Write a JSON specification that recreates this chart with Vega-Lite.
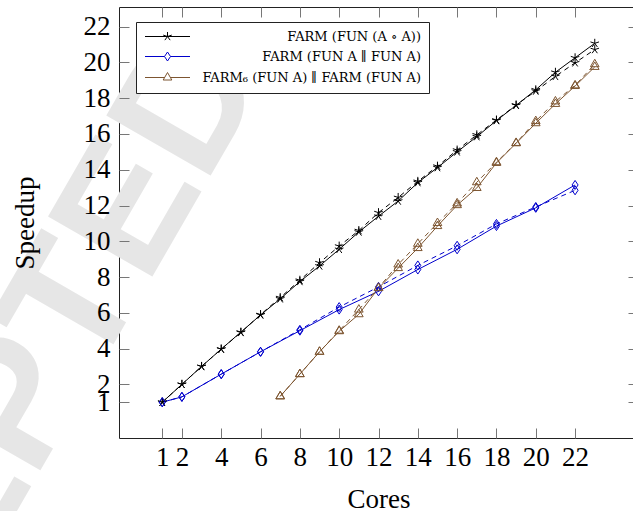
{
  "$schema": "https://vega.github.io/schema/vega-lite/v6.json",
  "width": 519,
  "height": 431,
  "autosize": "none",
  "padding": {"left": 119, "top": 7, "right": -5, "bottom": 73},
  "background": "white",
  "config": {
    "view": {"stroke": "#222", "strokeWidth": 1},
    "axis": {"grid": false, "domain": false, "tickColor": "#777", "tickWidth": 1, "tickSize": -10, "labelOverlap": false, "labelFlush": false, "labelBound": false}
  },
  "datasets": {
    "wm": [{"label": "ACCEPTED"}],
    "solid": [
      {"series": "FARM (FUN (A ∘ A))", "cores": 1, "speedup": 1.0},
      {"series": "FARM (FUN (A ∘ A))", "cores": 2, "speedup": 2.0},
      {"series": "FARM (FUN (A ∘ A))", "cores": 3, "speedup": 3.0},
      {"series": "FARM (FUN (A ∘ A))", "cores": 4, "speedup": 3.97},
      {"series": "FARM (FUN (A ∘ A))", "cores": 5, "speedup": 4.92},
      {"series": "FARM (FUN (A ∘ A))", "cores": 6, "speedup": 5.88},
      {"series": "FARM (FUN (A ∘ A))", "cores": 7, "speedup": 6.78},
      {"series": "FARM (FUN (A ∘ A))", "cores": 8, "speedup": 7.75},
      {"series": "FARM (FUN (A ∘ A))", "cores": 9, "speedup": 8.62},
      {"series": "FARM (FUN (A ∘ A))", "cores": 10, "speedup": 9.55},
      {"series": "FARM (FUN (A ∘ A))", "cores": 11, "speedup": 10.52},
      {"series": "FARM (FUN (A ∘ A))", "cores": 12, "speedup": 11.4},
      {"series": "FARM (FUN (A ∘ A))", "cores": 13, "speedup": 12.25},
      {"series": "FARM (FUN (A ∘ A))", "cores": 14, "speedup": 13.28},
      {"series": "FARM (FUN (A ∘ A))", "cores": 15, "speedup": 14.12},
      {"series": "FARM (FUN (A ∘ A))", "cores": 16, "speedup": 15.0},
      {"series": "FARM (FUN (A ∘ A))", "cores": 17, "speedup": 15.85},
      {"series": "FARM (FUN (A ∘ A))", "cores": 18, "speedup": 16.75},
      {"series": "FARM (FUN (A ∘ A))", "cores": 19, "speedup": 17.6},
      {"series": "FARM (FUN (A ∘ A))", "cores": 20, "speedup": 18.47},
      {"series": "FARM (FUN (A ∘ A))", "cores": 21, "speedup": 19.45},
      {"series": "FARM (FUN (A ∘ A))", "cores": 22, "speedup": 20.26},
      {"series": "FARM (FUN (A ∘ A))", "cores": 23, "speedup": 21.07},
      {"series": "FARM (FUN A ∥ FUN A)", "cores": 1, "speedup": 1.0},
      {"series": "FARM (FUN A ∥ FUN A)", "cores": 2, "speedup": 1.3},
      {"series": "FARM (FUN A ∥ FUN A)", "cores": 4, "speedup": 2.57},
      {"series": "FARM (FUN A ∥ FUN A)", "cores": 6, "speedup": 3.82},
      {"series": "FARM (FUN A ∥ FUN A)", "cores": 8, "speedup": 5.0},
      {"series": "FARM (FUN A ∥ FUN A)", "cores": 10, "speedup": 6.18},
      {"series": "FARM (FUN A ∥ FUN A)", "cores": 12, "speedup": 7.2},
      {"series": "FARM (FUN A ∥ FUN A)", "cores": 14, "speedup": 8.42},
      {"series": "FARM (FUN A ∥ FUN A)", "cores": 16, "speedup": 9.55},
      {"series": "FARM (FUN A ∥ FUN A)", "cores": 18, "speedup": 10.85},
      {"series": "FARM (FUN A ∥ FUN A)", "cores": 20, "speedup": 11.87},
      {"series": "FARM (FUN A ∥ FUN A)", "cores": 22, "speedup": 13.15},
      {"series": "FARM₆ (FUN A) ∥ FARM (FUN A)", "cores": 7, "speedup": 1.33},
      {"series": "FARM₆ (FUN A) ∥ FARM (FUN A)", "cores": 8, "speedup": 2.57},
      {"series": "FARM₆ (FUN A) ∥ FARM (FUN A)", "cores": 9, "speedup": 3.82},
      {"series": "FARM₆ (FUN A) ∥ FARM (FUN A)", "cores": 10, "speedup": 4.97},
      {"series": "FARM₆ (FUN A) ∥ FARM (FUN A)", "cores": 11, "speedup": 5.92},
      {"series": "FARM₆ (FUN A) ∥ FARM (FUN A)", "cores": 12, "speedup": 7.38},
      {"series": "FARM₆ (FUN A) ∥ FARM (FUN A)", "cores": 13, "speedup": 8.5},
      {"series": "FARM₆ (FUN A) ∥ FARM (FUN A)", "cores": 14, "speedup": 9.62},
      {"series": "FARM₆ (FUN A) ∥ FARM (FUN A)", "cores": 15, "speedup": 10.85},
      {"series": "FARM₆ (FUN A) ∥ FARM (FUN A)", "cores": 16, "speedup": 12.02},
      {"series": "FARM₆ (FUN A) ∥ FARM (FUN A)", "cores": 17, "speedup": 12.98},
      {"series": "FARM₆ (FUN A) ∥ FARM (FUN A)", "cores": 18, "speedup": 14.38},
      {"series": "FARM₆ (FUN A) ∥ FARM (FUN A)", "cores": 19, "speedup": 15.48},
      {"series": "FARM₆ (FUN A) ∥ FARM (FUN A)", "cores": 20, "speedup": 16.6},
      {"series": "FARM₆ (FUN A) ∥ FARM (FUN A)", "cores": 21, "speedup": 17.68},
      {"series": "FARM₆ (FUN A) ∥ FARM (FUN A)", "cores": 22, "speedup": 18.68},
      {"series": "FARM₆ (FUN A) ∥ FARM (FUN A)", "cores": 23, "speedup": 19.75}
    ],
    "dashed": [
      {"series": "FARM (FUN (A ∘ A))", "cores": 1, "speedup": 1.0},
      {"series": "FARM (FUN (A ∘ A))", "cores": 2, "speedup": 2.0},
      {"series": "FARM (FUN (A ∘ A))", "cores": 3, "speedup": 3.0},
      {"series": "FARM (FUN (A ∘ A))", "cores": 4, "speedup": 3.97},
      {"series": "FARM (FUN (A ∘ A))", "cores": 5, "speedup": 4.9},
      {"series": "FARM (FUN (A ∘ A))", "cores": 6, "speedup": 5.9},
      {"series": "FARM (FUN (A ∘ A))", "cores": 7, "speedup": 6.85},
      {"series": "FARM (FUN (A ∘ A))", "cores": 8, "speedup": 7.82},
      {"series": "FARM (FUN (A ∘ A))", "cores": 9, "speedup": 8.8},
      {"series": "FARM (FUN (A ∘ A))", "cores": 10, "speedup": 9.73},
      {"series": "FARM (FUN (A ∘ A))", "cores": 11, "speedup": 10.6},
      {"series": "FARM (FUN (A ∘ A))", "cores": 12, "speedup": 11.6},
      {"series": "FARM (FUN (A ∘ A))", "cores": 13, "speedup": 12.45},
      {"series": "FARM (FUN (A ∘ A))", "cores": 14, "speedup": 13.35},
      {"series": "FARM (FUN (A ∘ A))", "cores": 15, "speedup": 14.2},
      {"series": "FARM (FUN (A ∘ A))", "cores": 16, "speedup": 15.1},
      {"series": "FARM (FUN (A ∘ A))", "cores": 17, "speedup": 15.95},
      {"series": "FARM (FUN (A ∘ A))", "cores": 18, "speedup": 16.78},
      {"series": "FARM (FUN (A ∘ A))", "cores": 19, "speedup": 17.62},
      {"series": "FARM (FUN (A ∘ A))", "cores": 20, "speedup": 18.4},
      {"series": "FARM (FUN (A ∘ A))", "cores": 21, "speedup": 19.22},
      {"series": "FARM (FUN (A ∘ A))", "cores": 22, "speedup": 19.98},
      {"series": "FARM (FUN (A ∘ A))", "cores": 23, "speedup": 20.72},
      {"series": "FARM (FUN A ∥ FUN A)", "cores": 1, "speedup": 1.0},
      {"series": "FARM (FUN A ∥ FUN A)", "cores": 2, "speedup": 1.3},
      {"series": "FARM (FUN A ∥ FUN A)", "cores": 4, "speedup": 2.57},
      {"series": "FARM (FUN A ∥ FUN A)", "cores": 6, "speedup": 3.82},
      {"series": "FARM (FUN A ∥ FUN A)", "cores": 8, "speedup": 5.05},
      {"series": "FARM (FUN A ∥ FUN A)", "cores": 10, "speedup": 6.32},
      {"series": "FARM (FUN A ∥ FUN A)", "cores": 12, "speedup": 7.45},
      {"series": "FARM (FUN A ∥ FUN A)", "cores": 14, "speedup": 8.65},
      {"series": "FARM (FUN A ∥ FUN A)", "cores": 16, "speedup": 9.75},
      {"series": "FARM (FUN A ∥ FUN A)", "cores": 18, "speedup": 10.97},
      {"series": "FARM (FUN A ∥ FUN A)", "cores": 20, "speedup": 11.92},
      {"series": "FARM (FUN A ∥ FUN A)", "cores": 22, "speedup": 12.85},
      {"series": "FARM₆ (FUN A) ∥ FARM (FUN A)", "cores": 7, "speedup": 1.33},
      {"series": "FARM₆ (FUN A) ∥ FARM (FUN A)", "cores": 8, "speedup": 2.57},
      {"series": "FARM₆ (FUN A) ∥ FARM (FUN A)", "cores": 9, "speedup": 3.82},
      {"series": "FARM₆ (FUN A) ∥ FARM (FUN A)", "cores": 10, "speedup": 5.0},
      {"series": "FARM₆ (FUN A) ∥ FARM (FUN A)", "cores": 11, "speedup": 6.18},
      {"series": "FARM₆ (FUN A) ∥ FARM (FUN A)", "cores": 12, "speedup": 7.4},
      {"series": "FARM₆ (FUN A) ∥ FARM (FUN A)", "cores": 13, "speedup": 8.7},
      {"series": "FARM₆ (FUN A) ∥ FARM (FUN A)", "cores": 14, "speedup": 9.86},
      {"series": "FARM₆ (FUN A) ∥ FARM (FUN A)", "cores": 15, "speedup": 11.02},
      {"series": "FARM₆ (FUN A) ∥ FARM (FUN A)", "cores": 16, "speedup": 12.12},
      {"series": "FARM₆ (FUN A) ∥ FARM (FUN A)", "cores": 17, "speedup": 13.3},
      {"series": "FARM₆ (FUN A) ∥ FARM (FUN A)", "cores": 18, "speedup": 14.42},
      {"series": "FARM₆ (FUN A) ∥ FARM (FUN A)", "cores": 19, "speedup": 15.5},
      {"series": "FARM₆ (FUN A) ∥ FARM (FUN A)", "cores": 20, "speedup": 16.72},
      {"series": "FARM₆ (FUN A) ∥ FARM (FUN A)", "cores": 21, "speedup": 17.82},
      {"series": "FARM₆ (FUN A) ∥ FARM (FUN A)", "cores": 22, "speedup": 18.72},
      {"series": "FARM₆ (FUN A) ∥ FARM (FUN A)", "cores": 23, "speedup": 19.9}
    ]
  },
  "layer": [
    {
      "data": {"name": "wm"},
      "mark": {"type": "text", "angle": -60, "fontSize": 175, "font": "Liberation Sans", "fontWeight": "bold", "color": "#e6e6e6", "align": "center", "baseline": "middle"},
      "encoding": {
        "x": {"datum": -8.2, "type": "quantitative", "axis": null, "scale": {"domain": [-1.2, 25.2], "nice": false, "zero": false}},
        "y": {"datum": -2.6, "type": "quantitative", "axis": null, "scale": {"domain": [-1, 23.1], "nice": false, "zero": false}},
        "text": {"field": "label"}
      }
    },
    {
      "data": {"name": "solid"},
      "transform": [{"filter": "datum.cores < 0"}],
      "mark": {"type": "point", "filled": false, "size": 100, "strokeWidth": 1, "opacity": 1},
      "encoding": {
        "x": {"field": "cores", "type": "quantitative", "axis": null},
        "y": {"field": "speedup", "type": "quantitative", "axis": null},
        "color": {"field": "series", "type": "nominal",
          "scale": {"domain": ["FARM (FUN (A ∘ A))", "FARM (FUN A ∥ FUN A)", "FARM₆ (FUN A) ∥ FARM (FUN A)"], "range": ["#000000", "#0000cc", "#7d5530"]},
          "legend": {"orient": "none", "legendX": 17, "legendY": 15, "title": null, "padding": 8, "strokeColor": "#222", "fillColor": "white",
            "labelFont": "DejaVu Serif", "labelFontSize": 13, "labelColor": "black", "labelAlign": "right", "labelLimit": 400, "labelOffset": 247,
            "symbolSize": 100, "symbolStrokeWidth": 1, "symbolOffset": 17, "rowPadding": 6, "symbolOpacity": 1}},
        "shape": {"field": "series", "type": "nominal",
          "scale": {"domain": ["FARM (FUN (A ∘ A))", "FARM (FUN A ∥ FUN A)", "FARM₆ (FUN A) ∥ FARM (FUN A)"],
            "range": ["M-4.5,0H4.5M0,0V-0.9M0,0L0.86,-0.28M0,0L0.53,0.73M0,0L-0.53,0.73M0,0L-0.86,-0.28",
                      "M-4.5,0H-0.6M0.6,0H4.5M0,-0.9L0.6,0L0,0.9L-0.6,0Z",
                      "M-4.5,0H-0.577M0.577,0H4.5M0,-1L0.866,0.5L-0.866,0.5Z"]},
          "legend": {"orient": "none", "legendX": 17, "legendY": 15, "title": null, "padding": 8, "strokeColor": "#222", "fillColor": "white",
            "labelFont": "DejaVu Serif", "labelFontSize": 13, "labelColor": "black", "labelAlign": "right", "labelLimit": 400, "labelOffset": 247,
            "symbolSize": 100, "symbolStrokeWidth": 1, "symbolOffset": 17, "rowPadding": 6, "symbolOpacity": 1}}
      }
    },
    {
      "data": {"name": "solid"},
      "mark": {"type": "line", "strokeWidth": 1},
      "encoding": {
        "x": {"field": "cores", "type": "quantitative", "scale": {"domain": [-1.2, 25.2], "nice": false, "zero": false},
          "axis": {"orient": "bottom", "zindex": 1, "values": [1, 2, 4, 6, 8, 10, 12, 14, 16, 18, 20, 22], "labelPadding": 16, "labelFont": "Liberation Serif", "labelFontSize": 27, "labelColor": "black", "title": "Cores", "titleFont": "Liberation Serif", "titleFontSize": 27, "titleFontWeight": "normal", "titleColor": "black", "titleBaseline": "alphabetic", "titleY": 69}},
        "y": {"field": "speedup", "type": "quantitative", "scale": {"domain": [-1, 23.1], "nice": false, "zero": false},
          "axis": {"orient": "left", "zindex": 1, "values": [1, 2, 4, 6, 8, 10, 12, 14, 16, 18, 20, 22], "labelPadding": 19, "labelFont": "Liberation Serif", "labelFontSize": 27, "labelColor": "black", "title": "Speedup", "titleFont": "Liberation Serif", "titleFontSize": 27, "titleFontWeight": "normal", "titleColor": "black", "titleAngle": 270, "titleAlign": "center", "titleBaseline": "alphabetic", "titleX": -86, "titleY": 215.5}},
        "color": {"field": "series", "type": "nominal", "legend": null}
      }
    },
    {
      "data": {"name": "dashed"},
      "mark": {"type": "line", "strokeWidth": 1, "strokeDash": [5, 4]},
      "encoding": {
        "x": {"field": "cores", "type": "quantitative", "axis": {"orient": "top", "zindex": 1, "values": [1, 2, 4, 6, 8, 10, 12, 14, 16, 18, 20, 22], "labels": false, "title": null}},
        "y": {"field": "speedup", "type": "quantitative", "axis": {"orient": "right", "zindex": 1, "values": [1, 2, 4, 6, 8, 10, 12, 14, 16, 18, 20, 22], "labels": false, "title": null}},
        "color": {"field": "series", "type": "nominal", "legend": null}
      }
    },
    {
      "data": {"name": "solid"},
      "mark": {"type": "point", "filled": false, "size": 100, "strokeWidth": 1, "opacity": 1},
      "encoding": {
        "x": {"field": "cores", "type": "quantitative", "axis": null},
        "y": {"field": "speedup", "type": "quantitative", "axis": null},
        "color": {"field": "series", "type": "nominal", "legend": null},
        "shape": {"condition": [
            {"test": "datum.series === 'FARM (FUN (A ∘ A))'", "value": "M0,0V-0.9M0,0L0.86,-0.28M0,0L0.53,0.73M0,0L-0.53,0.73M0,0L-0.86,-0.28"},
            {"test": "datum.series === 'FARM (FUN A ∥ FUN A)'", "value": "M0,-0.9L0.6,0L0,0.9L-0.6,0Z"}],
          "value": "M0,-1L0.866,0.5L-0.866,0.5Z"}
      }
    },
    {
      "data": {"name": "dashed"},
      "mark": {"type": "point", "filled": false, "size": 100, "strokeWidth": 1, "opacity": 1},
      "encoding": {
        "x": {"field": "cores", "type": "quantitative", "axis": null},
        "y": {"field": "speedup", "type": "quantitative", "axis": null},
        "color": {"field": "series", "type": "nominal", "legend": null},
        "shape": {"condition": [
            {"test": "datum.series === 'FARM (FUN (A ∘ A))'", "value": "M0,0V-0.9M0,0L0.86,-0.28M0,0L0.53,0.73M0,0L-0.53,0.73M0,0L-0.86,-0.28"},
            {"test": "datum.series === 'FARM (FUN A ∥ FUN A)'", "value": "M0,-0.9L0.6,0L0,0.9L-0.6,0Z"}],
          "value": "M0,-1L0.866,0.5L-0.866,0.5Z"}
      }
    }
  ],
  "resolve": {"axis": {"x": "independent", "y": "independent"}}
}
